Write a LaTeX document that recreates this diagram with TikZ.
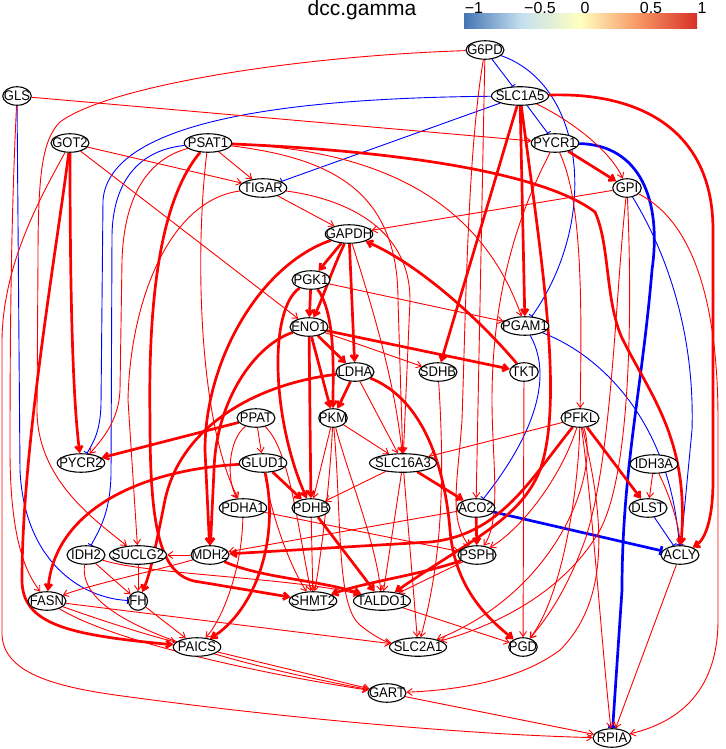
\documentclass[tikz,border=0pt]{standalone}
\usepackage{fontspec}
\setmainfont{Liberation Sans}
\newfontfamily\genefont[FakeStretch=0.93]{Liberation Sans}
\usetikzlibrary{shapes.geometric,arrows.meta,backgrounds}
\definecolor{cbA}{RGB}{69,117,180}
\definecolor{cbB}{RGB}{198,224,238}
\definecolor{cbC}{RGB}{255,255,191}
\definecolor{cbD}{RGB}{246,150,100}
\definecolor{cbE}{RGB}{215,48,39}
\tikzset{
  gene/.style={ellipse, draw=black, line width=1.1pt, fill=white, inner xsep=-15pt, inner ysep=0pt,
    minimum height=18.5pt, minimum width=38pt, font=\genefont\fontsize{14}{16}\selectfont},
  nII/.style={minimum width=19pt},
  nIII/.style={minimum width=28.5pt},
  nIV/.style={minimum width=38pt},
  nV/.style={minimum width=47.5pt},
  nVI/.style={minimum width=57pt},
  nVII/.style={minimum width=67pt},
  ra/.style={draw=red, line width=0.9pt, -{Straight Barb[length=5pt,width=7pt]}},
  RA/.style={draw=red, line width=2.7pt, -{Straight Barb[length=5pt,width=7pt]}},
  bi/.style={draw=blue, line width=0.9pt, -{Bar[width=7pt]}},
  BI/.style={draw=blue, line width=2.7pt, -{Bar[width=9pt]}},
  cbtick/.style={font=\fontsize{16}{18}\selectfont, anchor=base, inner sep=0pt},
}
\begin{document}
\begin{tikzpicture}[x=1pt,y=-1pt]
\useasboundingbox (0,0) rectangle (725,749);
% legend
\node[anchor=base, inner sep=0pt, font=\fontsize{21}{24}\selectfont] (title) at (362,15.5) {dcc.gamma};
\shade[left color=cbA, right color=cbC, middle color=cbB] (464,14) rectangle (580.5,29);
\shade[left color=cbC, right color=cbE, middle color=cbD] (580.5,14) rectangle (697,29);
\node[cbtick] (tm1) at (474,14) {−1};
\node[cbtick] (tm05) at (540,14) {−0.5};
\node[cbtick] (t0) at (585,14) {0};
\node[cbtick] (t05) at (651,14) {0.5};
\node[cbtick] (t1) at (702,14) {1};
% nodes
\node[gene,nIV] (G6PD) at (485,50) {G6PD};
\node[gene,nIII] (GLS) at (17,96) {GLS};
\node[gene,nVI] (SLC1A5) at (520,96) {SLC1A5};
\node[gene,nIV] (GOT2) at (70,143) {GOT2};
\node[gene,nV] (PSAT1) at (208,143) {PSAT1};
\node[gene,nV] (PYCR1) at (555,143) {PYCR1};
\node[gene,nV] (TIGAR) at (263,188) {TIGAR};
\node[gene,nIII] (GPI) at (627,188) {GPI};
\node[gene,nV] (GAPDH) at (349,234) {GAPDH};
\node[gene,nIV] (PGK1) at (311,280) {PGK1};
\node[gene,nV] (PGAM1) at (525,326) {PGAM1};
\node[gene,nIV] (ENO1) at (309,327) {ENO1};
\node[gene,nIV] (LDHA) at (355,372) {LDHA};
\node[gene,nIV] (SDHB) at (438,372) {SDHB};
\node[gene,nIII] (TKT) at (524,372) {TKT};
\node[gene,nIV] (PPAT) at (256,418) {PPAT};
\node[gene,nIII] (PKM) at (333,418) {PKM};
\node[gene,nIV] (PFKL) at (580,418) {PFKL};
\node[gene,nV] (PYCR2) at (81,463) {PYCR2};
\node[gene,nV] (GLUD1) at (263,463) {GLUD1};
\node[gene,nVII] (SLC16A3) at (403,463) {SLC16A3};
\node[gene,nV] (IDH3A) at (654,464) {IDH3A};
\node[gene,nV] (PDHA1) at (243,508) {PDHA1};
\node[gene,nIV] (PDHB) at (311,508) {PDHB};
\node[gene,nIV] (ACO2) at (476,508) {ACO2};
\node[gene,nIV] (DLST) at (648,508) {DLST};
\node[gene,nIV] (IDH2) at (86,555) {IDH2};
\node[gene,nVI] (SUCLG2) at (138,555) {SUCLG2};
\node[gene,nIV] (MDH2) at (210,555) {MDH2};
\node[gene,nIV] (PSPH) at (477,555) {PSPH};
\node[gene,nIV] (ACLY) at (680,555) {ACLY};
\node[gene,nIV] (FASN) at (47,601) {FASN};
\node[gene,nII] (FH) at (138,601) {FH};
\node[gene,nV] (SHMT2) at (313,601) {SHMT2};
\node[gene,nVI] (TALDO1) at (382,601) {TALDO1};
\node[gene,nV] (PAICS) at (197,647) {PAICS};
\node[gene,nVI] (SLC2A1) at (418,647) {SLC2A1};
\node[gene,nIII] (PGD) at (523,647) {PGD};
\node[gene,nIV] (GART) at (387,693) {GART};
\node[gene,nIV] (RPIA) at (612,738) {RPIA};
\begin{scope}[on background layer]
% blue inhibitions
\draw[bi] (G6PD) -- (SLC1A5);
\draw[bi] (G6PD) .. controls (585,85) and (600,220) .. (PGAM1);
\draw[bi] (SLC1A5) -- (PYCR1);
\draw[bi] (SLC1A5) -- (TIGAR);
\draw[bi] (SLC1A5) .. controls (300,98) and (110,118) .. (103,200) -- (101,405) .. controls (100,430) and (95,440) .. (PYCR2);
\draw[bi] (PSAT1) .. controls (140,150) and (113,180) .. (112,235) -- (111,475) .. controls (110,515) and (98,532) .. (IDH2);
\draw[bi] (GLS) -- (20,470) .. controls (24,560) and (80,598) .. (FH);
\draw[BI] (PYCR1) .. controls (640,145) and (662,200) .. (652,270) .. controls (642,390) and (622,470) .. (622,590) -- (RPIA);
\draw[bi] (GPI) .. controls (665,250) and (695,330) .. (692,430) -- (ACLY);
\draw[bi] (PGAM1) .. controls (600,355) and (670,420) .. (ACLY);
\draw[bi] (PGAM1) .. controls (555,380) and (530,440) .. (ACO2);
\draw[BI] (ACO2) -- (ACLY);
\draw[bi] (DLST) -- (ACLY);
% red thick
\draw[RA] (PYCR1) -- (GPI);
\draw[RA] (SLC1A5) .. controls (640,92) and (713,130) .. (713,230) -- (713,480) .. controls (713,520) and (705,540) .. (ACLY);
\draw[RA] (SLC1A5) -- (PGAM1);
\draw[RA] (SLC1A5) -- (SDHB);
\draw[RA] (SLC1A5) .. controls (540,250) and (565,400) .. (540,470) .. controls (520,520) and (470,540) .. (TALDO1);
\draw[RA] (PSAT1) .. controls (380,150) and (540,170) .. (595,212) .. controls (610,245) and (605,300) .. (622,338) .. controls (650,395) and (690,440) .. (ACLY);
\draw[RA] (GOT2) .. controls (70,300) and (73,400) .. (PYCR2);
\draw[RA] (GOT2) .. controls (55,260) and (22,450) .. (22,580) .. controls (22,625) and (70,635) .. (PAICS);
\draw[RA] (PSAT1) .. controls (160,200) and (148,300) .. (150,420) .. controls (150,530) and (160,578) .. (200,582) -- (SHMT2);
\draw[RA] (LDHA) .. controls (250,385) and (180,430) .. (165,500) .. controls (155,550) and (150,575) .. (FH);
\draw[RA] (GAPDH) -- (PGK1);
\draw[RA] (GAPDH) .. controls (332,270) and (322,300) .. (ENO1);
\draw[RA] (GAPDH) -- (LDHA);
\draw[RA] (PGK1) -- (ENO1);
\draw[RA] (ENO1) -- (LDHA);
\draw[RA] (ENO1) -- (TKT);
\draw[RA] (TKT) .. controls (480,320) and (420,265) .. (GAPDH);
\draw[RA] (ENO1) -- (PKM);
\draw[RA] (LDHA) -- (PKM);
\draw[RA] (PGK1) .. controls (336,315) and (333,370) .. (PKM);
\draw[RA] (GAPDH) .. controls (260,265) and (205,360) .. (205,450) -- (MDH2);
\draw[RA] (ENO1) .. controls (255,345) and (216,400) .. (214,470) -- (MDH2);
\draw[RA] (PFKL) .. controls (530,480) and (500,535) .. (430,542) -- (MDH2);
\draw[RA] (PPAT) -- (PYCR2);
\draw[RA] (GLUD1) -- (PDHB);
\draw[RA] (GLUD1) .. controls (140,470) and (55,510) .. (FASN);
\draw[RA] (GLUD1) .. controls (280,540) and (255,610) .. (PAICS);
\draw[RA] (PDHB) -- (TALDO1);
\draw[RA] (SLC16A3) -- (ACO2);
\draw[RA] (ACO2) -- (PSPH);
\draw[RA] (PFKL) -- (DLST);
\draw[RA] (LDHA) .. controls (425,400) and (445,470) .. (450,530) .. controls (455,590) and (490,620) .. (PGD);
\draw[RA] (PSPH) .. controls (420,575) and (365,582) .. (SHMT2);
\draw[RA] (MDH2) .. controls (260,578) and (320,580) .. (TALDO1);
\draw[RA] (ENO1) -- (PDHB);
\draw[RA] (PGK1) .. controls (268,310) and (272,420) .. (PDHB);
% red thin
\draw[ra] (G6PD) .. controls (300,56) and (110,85) .. (60,122) .. controls (42,140) and (38,175) .. (38,260) -- (37,410) .. controls (37,480) and (95,520) .. (SUCLG2);
\draw[ra] (G6PD) -- (ACO2);
\draw[ra] (G6PD) .. controls (468,150) and (466,300) .. (462,420) .. controls (458,480) and (448,520) .. (PSPH);
\draw[ra] (GLS) -- (PYCR1);
\draw[ra] (GLS) .. controls (12,200) and (10,300) .. (10,450) .. controls (10,545) and (28,575) .. (FASN);
\draw[ra] (GOT2) .. controls (45,190) and (3,260) .. (2,340) -- (2,635) .. controls (4,675) and (60,688) .. (130,697) .. controls (300,720) and (480,735) .. (RPIA);
\draw[ra] (GOT2) -- (TIGAR);
\draw[ra] (GOT2) -- (ENO1);
\draw[ra] (PSAT1) -- (TIGAR);
\draw[ra] (PSAT1) .. controls (380,150) and (480,200) .. (PGAM1);
\draw[ra] (PSAT1) .. controls (330,158) and (398,190) .. (398,300) -- (SLC16A3);
\draw[ra] (PSAT1) .. controls (145,160) and (124,200) .. (122,260) -- (120,390) .. controls (119,420) and (102,440) .. (PYCR2);
\draw[ra] (PSAT1) .. controls (195,250) and (198,420) .. (PDHA1);
\draw[ra] (SLC1A5) .. controls (570,120) and (610,150) .. (GPI);
\draw[ra] (PYCR1) .. controls (582,200) and (582,300) .. (PFKL);
\draw[ra] (PYCR1) .. controls (515,220) and (492,300) .. (492,400) .. controls (492,460) and (502,520) .. (PSPH);
\draw[ra] (GPI) -- (GAPDH);
\draw[ra] (GPI) .. controls (700,225) and (718,320) .. (718,420) -- (718,620) .. controls (718,690) and (680,722) .. (RPIA);
\draw[ra] (GPI) .. controls (615,300) and (612,460) .. (585,540) .. controls (565,595) and (545,620) .. (PGD);
\draw[ra] (GPI) .. controls (632,300) and (632,470) .. (600,530) .. controls (560,600) and (480,630) .. (SLC2A1);
\draw[ra] (TIGAR) -- (GAPDH);
\draw[ra] (TIGAR) .. controls (340,198) and (410,225) .. (410,300) -- (SLC16A3);
\draw[ra] (TIGAR) .. controls (170,200) and (130,300) .. (128,400) -- (SUCLG2);
\draw[ra] (GAPDH) .. controls (370,300) and (395,380) .. (SLC16A3);
\draw[ra] (PGK1) -- (PGAM1);
\draw[ra] (ENO1) -- (SDHB);
\draw[ra] (LDHA) -- (SLC16A3);
\draw[ra] (PKM) -- (SLC16A3);
\draw[ra] (PKM) -- (PDHB);
\draw[ra] (PKM) .. controls (330,480) and (322,550) .. (SHMT2);
\draw[ra] (PKM) .. controls (350,480) and (375,540) .. (TALDO1);
\draw[ra] (PKM) .. controls (342,520) and (336,605) .. (360,625) .. controls (372,635) and (385,642) .. (SLC2A1);
\draw[ra] (PPAT) -- (GLUD1);
\draw[ra] (PPAT) .. controls (228,440) and (226,480) .. (PDHA1);
\draw[ra] (PPAT) .. controls (290,450) and (298,530) .. (SHMT2);
\draw[ra] (GLUD1) .. controls (272,520) and (292,570) .. (SHMT2);
\draw[ra] (SLC16A3) -- (PDHB);
\draw[ra] (SLC16A3) -- (TALDO1);
\draw[ra] (SLC16A3) -- (SLC2A1);
\draw[ra] (PFKL) -- (SLC16A3);
\draw[ra] (PFKL) .. controls (560,480) and (520,530) .. (PSPH);
\draw[ra] (PFKL) .. controls (578,500) and (560,600) .. (PGD);
\draw[ra] (PFKL) .. controls (592,500) and (602,650) .. (RPIA);
\draw[ra] (PFKL) .. controls (600,470) and (560,590) .. (SLC2A1);
\draw[ra] (PFKL) .. controls (605,520) and (610,600) .. (560,650) .. controls (520,680) and (460,690) .. (GART);
\draw[ra] (IDH3A) -- (DLST);
\draw[ra] (IDH3A) .. controls (672,500) and (680,530) .. (ACLY);
\draw[ra] (ACLY) -- (RPIA);
\draw[ra] (ACO2) -- (MDH2);
\draw[ra] (PDHA1) -- (PSPH);
\draw[ra] (PDHA1) .. controls (242,570) and (222,620) .. (PAICS);
\draw[ra] (PDHB) -- (SHMT2);
\draw[ra] (IDH2) -- (FH);
\draw[ra] (IDH2) .. controls (150,575) and (300,578) .. (TALDO1);
\draw[ra] (SUCLG2) -- (FH);
\draw[ra] (MDH2) -- (SUCLG2);
\draw[ra] (MDH2) .. controls (150,572) and (90,585) .. (FASN);
\draw[ra] (FASN) .. controls (100,620) and (150,636) .. (PAICS);
\draw[ra] (FASN) -- (SLC2A1);
\draw[ra] (FASN) .. controls (110,640) and (250,672) .. (GART);
\draw[ra] (IDH2) .. controls (78,610) and (160,650) .. (GART);
\draw[ra] (FH) -- (PAICS);
\draw[ra] (PAICS) -- (GART);
\draw[ra] (GART) -- (RPIA);
\draw[ra] (TALDO1) -- (PGD);
\draw[ra] (PSPH) -- (TALDO1);
\draw[ra] (TKT) -- (PGD);
\draw[ra] (SDHB) .. controls (445,480) and (442,560) .. (SLC2A1);
\end{scope}
\end{tikzpicture}
\end{document}
